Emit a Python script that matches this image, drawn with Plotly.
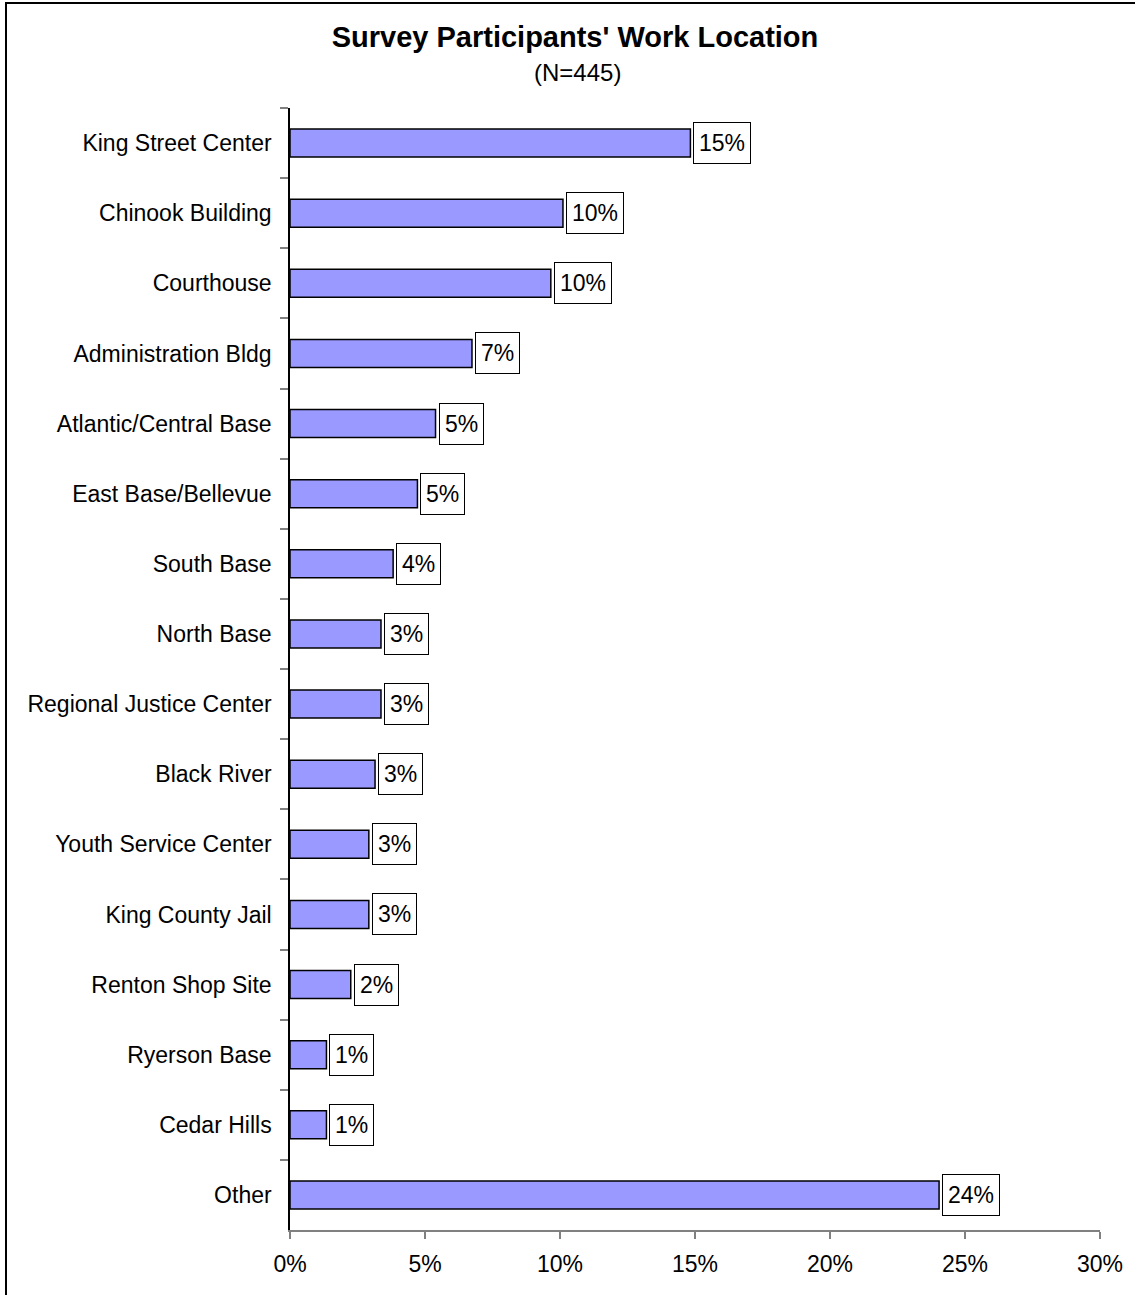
import plotly.graph_objects as go

# Work locations, top to bottom as in the chart
locations = [
    "King Street Center",
    "Chinook Building",
    "Courthouse",
    "Administration Bldg",
    "Atlantic/Central Base",
    "East Base/Bellevue",
    "South Base",
    "North Base",
    "Regional Justice Center",
    "Black River",
    "Youth Service Center",
    "King County Jail",
    "Renton Shop Site",
    "Ryerson Base",
    "Cedar Hills",
    "Other",
]
# share of respondents (N=445)
shares = [
    0.1483, 0.1011, 0.0966, 0.0674, 0.0539, 0.0472, 0.0382, 0.0337,
    0.0337, 0.0315, 0.0292, 0.0292, 0.0225, 0.0135, 0.0135, 0.2404,
]
x_ticks = [0, 0.05, 0.10, 0.15, 0.20, 0.25, 0.30]

FONT = "Liberation Sans, Arial, sans-serif"
W, H = 1135, 1295
L, R, T, B = 290, 35, 108, 65
plot_w = W - L - R
plot_h = H - T - B

fig = go.Figure()
fig.add_trace(go.Bar(
    x=shares,
    y=locations,
    orientation="h",
    width=0.4,
    marker=dict(color="#9999FF", line=dict(color="black", width=1.5)),
    hoverinfo="x+y",
))

# boxed value labels just past the end of each bar
for loc, v in zip(locations, shares):
    fig.add_annotation(
        x=v, y=loc, xref="x", yref="y",
        text=f"{round(v * 100)}%",
        showarrow=False,
        xanchor="left", yanchor="middle",
        xshift=3,
        height=30,
        font=dict(family=FONT, size=23, color="black"),
        bgcolor="white",
        bordercolor="black",
        borderwidth=1,
        borderpad=5,
    )

# subtitle under the title
fig.add_annotation(
    x=(577 - L) / plot_w, y=1 + (T - 72) / plot_h,
    xref="paper", yref="paper",
    text="(N=445)", showarrow=False,
    xanchor="center", yanchor="middle",
    font=dict(family=FONT, size=24, color="black"),
)

# outer frame (only left/top edges fall inside the picture)
fig.add_shape(
    type="rect", xref="paper", yref="paper",
    x0=(6 - L) / plot_w, x1=(W + 10 - L) / plot_w,
    y0=1 - (H + 10 - T) / plot_h, y1=1 + (T - 3) / plot_h,
    line=dict(color="black", width=2),
    layer="below",
)

fig.update_layout(
    width=W,
    height=H,
    margin=dict(l=L, r=R, t=T, b=B),
    plot_bgcolor="white",
    paper_bgcolor="white",
    showlegend=False,
    font=dict(family=FONT, size=23, color="black"),
    title=dict(
        text="<b>Survey Participants' Work Location</b>",
        x=575 / W, xanchor="center",
        y=1 - 37 / H, yanchor="middle",
        yref="container",
        font=dict(family=FONT, size=29, color="black"),
    ),
    xaxis=dict(
        range=[0, 0.30],
        tickvals=x_ticks,
        tickformat=".0%",
        ticks="outside",
        ticklen=7,
        tickcolor="#808080",
        tickwidth=1.5,
        showline=True,
        linecolor="#808080",
        linewidth=1.5,
        showgrid=False,
        zeroline=False,
        ticklabelstandoff=6,
        tickfont=dict(family=FONT, size=23, color="black"),
    ),
    yaxis=dict(
        categoryorder="array",
        categoryarray=locations,
        autorange="reversed",
        tickson="boundaries",
        ticks="outside",
        ticklen=8,
        tickcolor="#808080",
        tickwidth=1.5,
        showline=True,
        linecolor="black",
        linewidth=1.5,
        showgrid=False,
        ticklabelstandoff=12,
        tickfont=dict(family=FONT, size=23, color="black"),
    ),
)

# drop the page's default body margin so the figure sits at the window corner
fig.write_html(
    "out.html",
    config={"displayModeBar": False},
    post_script="document.body.style.margin = '0';",
)
